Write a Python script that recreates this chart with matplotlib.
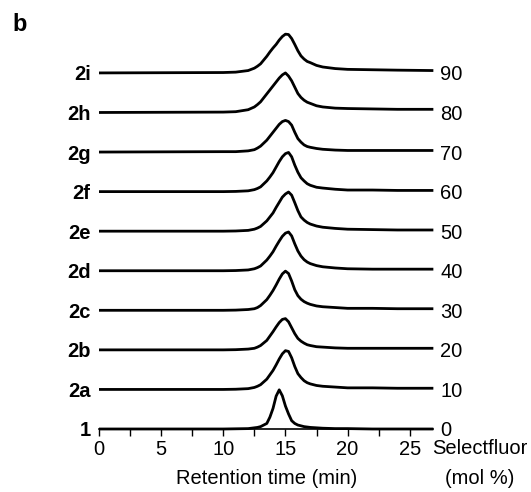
import matplotlib
matplotlib.use("Agg")
import matplotlib.pyplot as plt
from matplotlib.ticker import MultipleLocator

plt.rcParams['font.family'] = ['Liberation Sans', 'DejaVu Sans']

# Retention time grid (min)
time_min = [0, 5, 10, 11, 12, 12.5, 12.75, 13, 13.5, 13.75, 14, 14.25, 14.5, 14.75, 15,
            15.25, 15.5, 15.75, 16, 16.25, 16.5, 16.75, 17, 17.5, 18, 19, 20, 22, 24, 26.9]

# Sample names (bottom to top) and Selectfluor loading (mol %)
samples = ['1', '2a', '2b', '2c', '2d', '2e', '2f', '2g', '2h', '2i']
selectfluor = [0, 10, 20, 30, 40, 50, 60, 70, 80, 90]

# Detector signal (relative units, baseline = 0)
sig_1  = [0, 0.0, 0.0, 0.005, 0.01, 0.03, 0.04, 0.06, 0.14, 0.30, 0.52, 0.83, 0.99, 0.84, 0.58,
          0.38, 0.21, 0.14, 0.10, 0.08, 0.06, 0.05, 0.04, 0.03, 0.02, 0.01, 0.01, 0.0, 0.0, 0.0]
sig_2a = [0, 0.0, 0.0, 0.005, 0.02, 0.05, 0.08, 0.12, 0.26, 0.37, 0.48, 0.62, 0.77, 0.90, 0.98,
          0.96, 0.80, 0.58, 0.40, 0.30, 0.22, 0.17, 0.14, 0.10, 0.08, 0.06, 0.04, 0.04, 0.03, 0.03]
sig_2b = [0, 0.0, 0.0, 0.005, 0.02, 0.04, 0.07, 0.11, 0.24, 0.35, 0.46, 0.58, 0.69, 0.77, 0.79,
          0.71, 0.56, 0.41, 0.29, 0.22, 0.17, 0.13, 0.11, 0.08, 0.07, 0.05, 0.04, 0.04, 0.04, 0.04]
sig_2c = [0, 0.0, 0.0, 0.005, 0.02, 0.04, 0.07, 0.12, 0.27, 0.38, 0.50, 0.64, 0.79, 0.92, 0.99,
          0.93, 0.74, 0.52, 0.37, 0.28, 0.22, 0.18, 0.15, 0.11, 0.09, 0.07, 0.05, 0.05, 0.04, 0.04]
sig_2d = [0, 0.0, 0.0, 0.005, 0.02, 0.05, 0.08, 0.12, 0.27, 0.37, 0.48, 0.62, 0.75, 0.87, 0.95,
          0.98, 0.88, 0.68, 0.50, 0.37, 0.28, 0.22, 0.18, 0.13, 0.10, 0.07, 0.05, 0.04, 0.04, 0.04]
sig_2e = [0, 0.0, 0.0, 0.005, 0.02, 0.05, 0.08, 0.12, 0.26, 0.36, 0.46, 0.60, 0.73, 0.86, 0.94,
          0.99, 0.91, 0.72, 0.52, 0.36, 0.28, 0.22, 0.18, 0.13, 0.10, 0.07, 0.05, 0.04, 0.03, 0.03]
sig_2f = [0, 0.0, 0.0, 0.005, 0.02, 0.05, 0.08, 0.12, 0.27, 0.37, 0.48, 0.62, 0.76, 0.88, 0.96,
          0.99, 0.88, 0.67, 0.49, 0.35, 0.27, 0.20, 0.16, 0.11, 0.09, 0.06, 0.04, 0.04, 0.03, 0.03]
sig_2g = [0, 0.005, 0.01, 0.01, 0.03, 0.06, 0.10, 0.15, 0.30, 0.40, 0.50, 0.60, 0.70, 0.77, 0.80,
          0.77, 0.68, 0.50, 0.34, 0.25, 0.18, 0.14, 0.12, 0.09, 0.07, 0.05, 0.04, 0.04, 0.04, 0.04]
sig_2h = [0, 0.005, 0.01, 0.02, 0.07, 0.14, 0.20, 0.27, 0.47, 0.57, 0.67, 0.77, 0.87, 0.95, 1.00,
          0.92, 0.80, 0.64, 0.48, 0.38, 0.31, 0.26, 0.23, 0.17, 0.14, 0.11, 0.10, 0.09, 0.08, 0.08]
sig_2i = [0, 0.005, 0.01, 0.02, 0.06, 0.12, 0.17, 0.23, 0.42, 0.53, 0.63, 0.72, 0.83, 0.92, 0.98,
          0.97, 0.87, 0.72, 0.56, 0.43, 0.35, 0.29, 0.26, 0.19, 0.15, 0.11, 0.09, 0.08, 0.07, 0.06]

traces = [sig_1, sig_2a, sig_2b, sig_2c, sig_2d, sig_2e, sig_2f, sig_2g, sig_2h, sig_2i]

W, H = 531, 492
fig = plt.figure(figsize=(W / 100, H / 100), dpi=100)
ax_l, ax_r, ax_b, ax_t = 99, 434.6, 429, 29.4
ax = fig.add_axes([ax_l / W, (H - ax_b) / H, (ax_r - ax_l) / W, (ax_b - ax_t) / H])

for i, sig in enumerate(traces):
    ax.plot(time_min, [i + v for v in sig], color='black', lw=2.0,
            clip_on=False, solid_joinstyle='round', solid_capstyle='butt')

ax.set_xlim(0, 27)
ax.set_ylim(0, 10.1)

for s in ['top', 'left', 'right']:
    ax.spines[s].set_visible(False)
ax.spines['bottom'].set_bounds(0, 26.9)
ax.spines['bottom'].set_linewidth(1.2)

ax.set_xticks([0, 5, 10, 15, 20, 25])
ax.xaxis.set_minor_locator(MultipleLocator(2.5))
ax.tick_params(axis='x', which='both', direction='out', length=5, width=1,
               labelsize=14.5, pad=3)

ax.set_yticks(range(len(samples)))
ax.set_yticklabels(samples, fontweight='bold', fontsize=14.5)
ax.tick_params(axis='y', length=0, pad=6)

ax2 = ax.twinx()
ax2.set_ylim(ax.get_ylim())
ax2.set_yticks(range(len(selectfluor)))
ax2.set_yticklabels([str(v) for v in selectfluor], fontsize=14.5)
ax2.tick_params(axis='y', length=0, pad=4)
for s in ax2.spines.values():
    s.set_visible(False)

ax.set_xlabel('Retention time (min)', fontsize=14.5)
ax.xaxis.label.set_va('baseline')
ax.xaxis.set_label_coords(0.5, (ax_b - 483.5) / (ax_b - ax_t))

fig.text(480 / W, 1 - 454 / H, 'Selectfluor', fontsize=14.5, ha='center', va='baseline')
fig.text(480 / W, 1 - 483.5 / H, '(mol %)', fontsize=14.5, ha='center', va='baseline')

fig.text(12 / W, 1 - 31 / H, 'b', fontsize=17, fontweight='bold', ha='left', va='baseline')

fig.savefig('out.png', dpi=100)
